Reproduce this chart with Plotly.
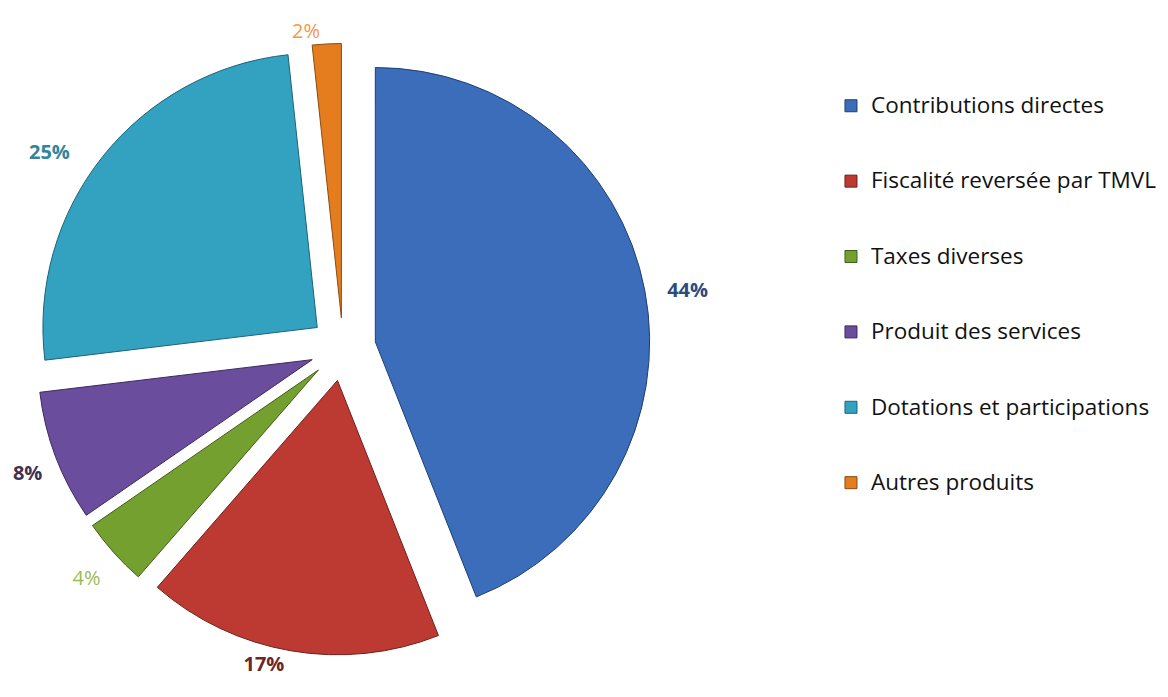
import plotly.graph_objects as go

categories = ["Contributions directes", "Fiscalité reversée par TMVL", "Taxes diverses",
              "Produit des services", "Dotations et participations", "Autres produits"]
values = [44.0, 17.4, 4.0, 7.7, 25.2, 1.7]
slice_colors = ["#3b6dba", "#bd3a32", "#74a030", "#6a4d9c", "#33a2c0", "#e57d1e"]
edge_colors = ["#1f3f70", "#6e1f1b", "#425c1a", "#3c2a5c", "#1c6378", "#8a4a10"]
label_colors = ["#2d4b7c", "#6e2526", "#9bbb59", "#403152", "#31859c", "#f79646"]
label_bold = [True, True, False, True, True, False]
pulls = [0.12, 0.12, 0.12, 0.12, 0.12, 0.11]
# small text padding so the outside labels sit a bit further from the pie, as in the original
label_pre = ["&nbsp;&nbsp;&nbsp;", "", "&nbsp;<br>", "&nbsp;<br>", "", ""]
label_post = ["", "", "", "", "&nbsp;&nbsp;&nbsp;&nbsp;&nbsp;", ""]

# legend entries: blank spacer lines keep the wide vertical spacing of the original
legend_labels = ["<br><span style='font-size:22.5px'>" + c + "</span><br> " for c in categories]
templates = [pre + ("<b>%{percent:.0%}</b>" if b else "%{percent:.0%}") + post
             for pre, b, post in zip(label_pre, label_bold, label_post)]

fig = go.Figure(go.Pie(
    labels=legend_labels,
    values=values,
    sort=False,
    direction="clockwise",
    rotation=0,
    pull=pulls,
    automargin=False,
    marker=dict(colors=slice_colors, line=dict(color=edge_colors, width=1)),
    texttemplate=templates,
    textposition="outside",
    textfont=dict(color=label_colors, size=20, family="Open Sans"),
    domain=dict(x=[0.02376, 0.54987], y=[0.07138, 0.95301]),
    hoverinfo="percent",
))

fig.update_layout(
    width=1168, height=697,
    margin=dict(l=0, r=0, t=0, b=0, pad=0, autoexpand=False),
    paper_bgcolor="white",
    plot_bgcolor="white",
    font=dict(family="Open Sans", color="#000000"),
    showlegend=True,
    legend=dict(
        x=0.7046, y=0.921, xanchor="left", yanchor="top",
        font=dict(size=18.56, family="Open Sans", color="#111111"),
        valign="middle",
        bgcolor="rgba(0,0,0,0)",
    ),
)

fig.write_html("out.html")
